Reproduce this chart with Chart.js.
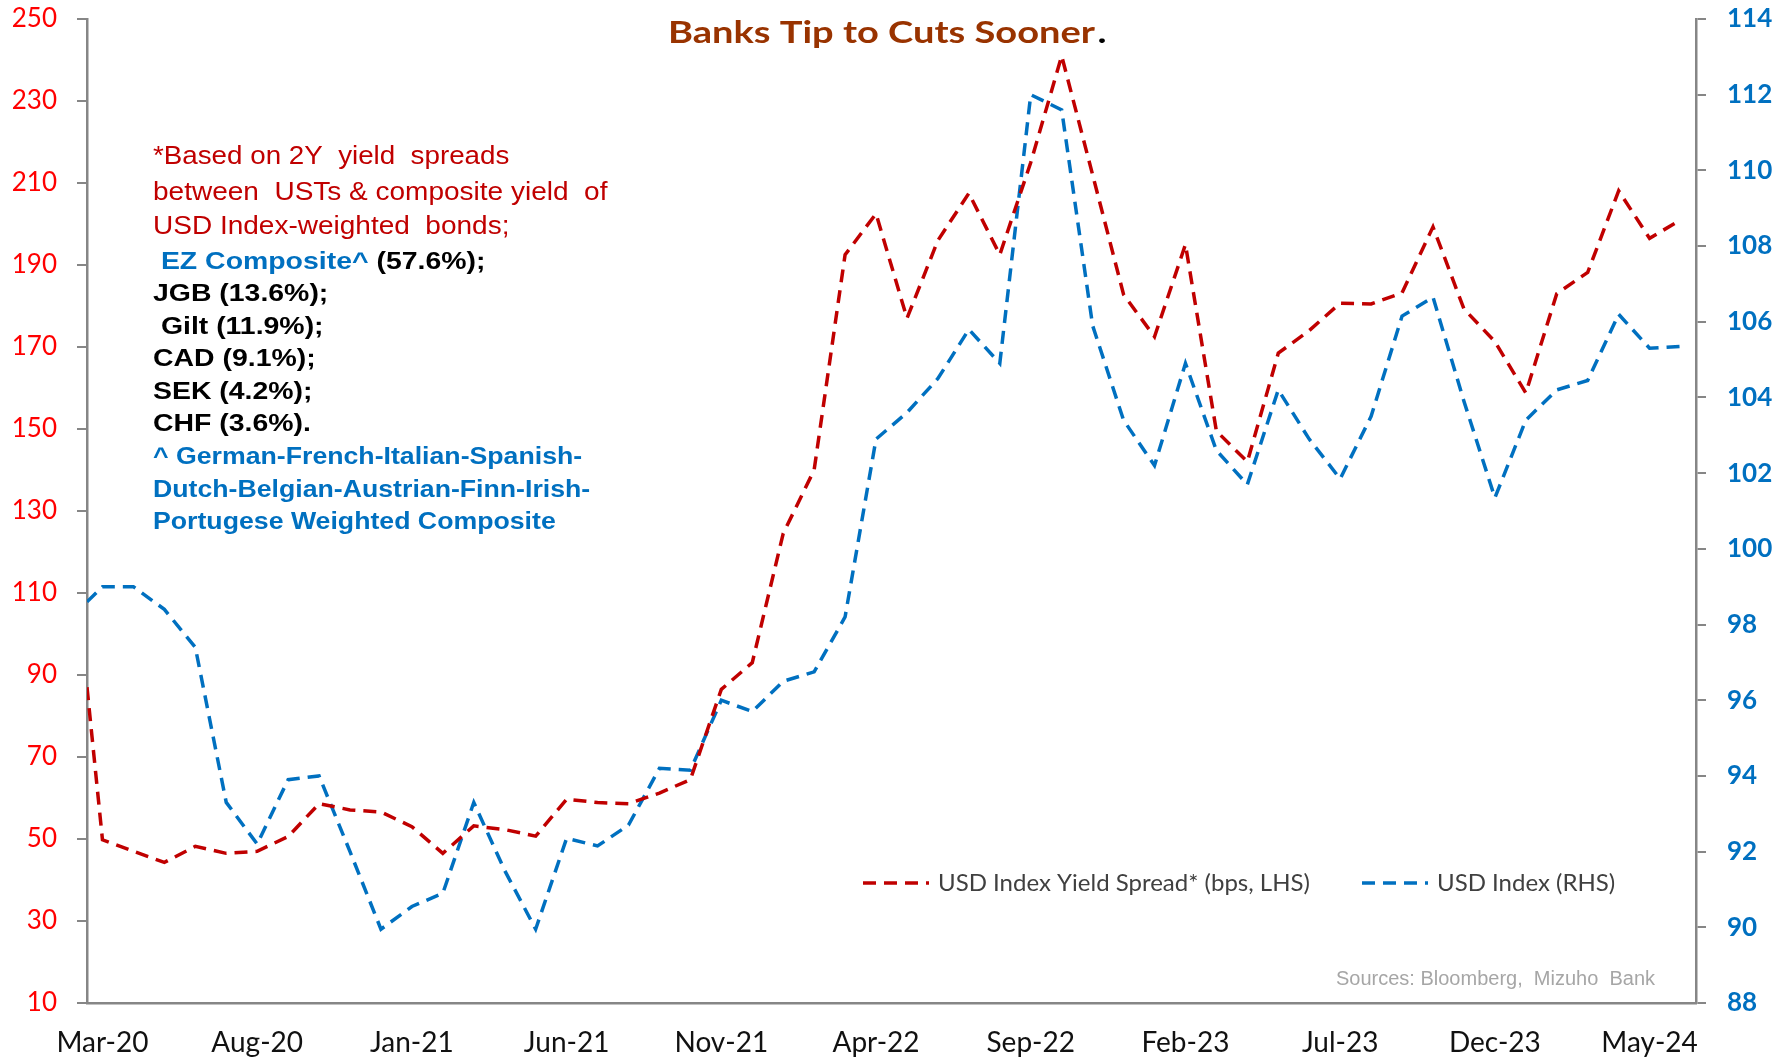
<!DOCTYPE html>
<html>
<head>
<meta charset="utf-8">
<script src="https://cdn.jsdelivr.net/npm/chart.js@4/dist/chart.umd.min.js"></script>
<style>
  html, body { margin: 0; padding: 0; background: #ffffff; }
  #wrap { width: 1787px; height: 1057px; position: relative; }
</style>
</head>
<body>
<div id="wrap"><canvas id="chart"></canvas></div>
<script>
// Monthly observations, Mar-20 .. Jun-24
const months = [
  'Mar-20','Apr-20','May-20','Jun-20','Jul-20','Aug-20','Sep-20','Oct-20','Nov-20','Dec-20',
  'Jan-21','Feb-21','Mar-21','Apr-21','May-21','Jun-21','Jul-21','Aug-21','Sep-21','Oct-21',
  'Nov-21','Dec-21','Jan-22','Feb-22','Mar-22','Apr-22','May-22','Jun-22','Jul-22','Aug-22',
  'Sep-22','Oct-22','Nov-22','Dec-22','Jan-23','Feb-23','Mar-23','Apr-23','May-23','Jun-23',
  'Jul-23','Aug-23','Sep-23','Oct-23','Nov-23','Dec-23','Jan-24','Feb-24','Mar-24','Apr-24',
  'May-24','Jun-24'
];

// USD Index yield spread, bps (left axis)
const spread = [
  49.8, 47.0, 44.3, 48.2, 46.5, 47.0, 50.6, 58.6, 57.1, 56.6,
  53.0, 46.5, 53.2, 52.3, 50.7, 59.7, 58.9, 58.6, 61.2, 64.5,
  86.5, 93.0, 124.5, 140.0, 192.5, 202.5, 177.0, 196.0, 207.5, 192.5,
  215.0, 241.0, 212.0, 182.8, 172.5, 195.0, 149.5, 142.0, 168.5, 174.0,
  180.7, 180.5, 183.2, 199.3, 179.3, 171.3, 158.8, 183.0, 188.2, 208.1,
  196.5, 201.0
];

// USD Index level (right axis)
const usdIndex = [
  99.0, 99.0, 98.4, 97.4, 93.3, 92.2, 93.9, 94.0, 92.0, 89.95,
  90.55, 90.9, 93.3, 91.5, 89.95, 92.35, 92.15, 92.7, 94.2, 94.15,
  96.0, 95.7, 96.5, 96.75, 98.2, 102.9, 103.6, 104.5, 105.8, 104.9,
  112.0, 111.6, 105.9, 103.4, 102.2, 104.9, 102.6, 101.7, 104.2, 102.9,
  101.85, 103.5, 106.15, 106.65, 103.9, 101.35, 103.4, 104.2, 104.45, 106.2,
  105.3, 105.35
];

// Opening observation in mid-Feb-20, half a month ahead of the first monthly print
const openMonth = -0.5;
const openSpread = 87;
const openUsdIndex = 98.6;

// Labelled months on the date axis
const tickMonths = ['Mar-20','Aug-20','Jan-21','Jun-21','Nov-21','Apr-22','Sep-22','Feb-23','Jul-23','Dec-23','May-24'];

const seriesNames = ['USD Index Yield Spread* (bps, LHS)', 'USD Index (RHS)'];

const titleText = 'Banks Tip to Cuts Sooner';
const sourceText = 'Sources: Bloomberg,  Mizuho  Bank';

const RED = '#C00000', BLUE = '#0070C0', AXIS = '#868686';
const NOTE_RED = "25px 'Liberation Sans', Arial, sans-serif";
const NOTE_BOLD = "bold 24.5px 'Liberation Sans', Arial, sans-serif";
const NOTE_BLUE = "bold 23px 'Liberation Sans', Arial, sans-serif";

// Footnote block: lines of coloured runs, with a horizontal stretch per line
const noteLines = [
  { sx: 1.11, runs: [{ text: '*Based on 2Y  yield  spreads', font: NOTE_RED, color: RED }] },
  { sx: 1.12, runs: [{ text: 'between  USTs & composite yield  of', font: NOTE_RED, color: RED }] },
  { sx: 1.12, runs: [{ text: 'USD Index-weighted  bonds;', font: NOTE_RED, color: RED }] },
  { sx: 1.16, runs: [{ text: ' EZ Composite^', font: NOTE_BOLD, color: BLUE }, { text: ' (57.6%);', font: NOTE_BOLD, color: '#000' }] },
  { sx: 1.16, runs: [{ text: 'JGB (13.6%);', font: NOTE_BOLD, color: '#000' }] },
  { sx: 1.16, runs: [{ text: ' Gilt (11.9%);', font: NOTE_BOLD, color: '#000' }] },
  { sx: 1.16, runs: [{ text: 'CAD (9.1%);', font: NOTE_BOLD, color: '#000' }] },
  { sx: 1.16, runs: [{ text: 'SEK (4.2%);', font: NOTE_BOLD, color: '#000' }] },
  { sx: 1.16, runs: [{ text: 'CHF (3.6%).', font: NOTE_BOLD, color: '#000' }] },
  { sx: 1.16, runs: [{ text: '^ German-French-Italian-Spanish-', font: NOTE_BLUE, color: BLUE }] },
  { sx: 1.16, runs: [{ text: 'Dutch-Belgian-Austrian-Finn-Irish-', font: NOTE_BLUE, color: BLUE }] },
  { sx: 1.16, runs: [{ text: 'Portugese Weighted Composite', font: NOTE_BLUE, color: BLUE }] }
];
const noteBaselines = [164, 200, 234, 269, 301, 334, 366, 399, 431, 464, 497, 529];

function toPoints(open, values) {
  return [{ x: openMonth, y: open }].concat(values.map((v, i) => ({ x: i, y: v })));
}

function drawRuns(ctx, x, y, runs, sx) {
  ctx.save();
  ctx.translate(x, y);
  ctx.scale(sx, 1);
  let cx = 0;
  for (const r of runs) {
    ctx.font = r.font;
    ctx.fillStyle = r.color;
    ctx.fillText(r.text, cx, 0);
    cx += ctx.measureText(r.text).width;
  }
  ctx.restore();
}

// Value axes keep their top/bottom labels inside the layout padding
function fixVerticalAxis(width) {
  return function (scale) {
    scale.width = width;
    scale.paddingTop = 0;
    scale.paddingBottom = 0;
  };
}

const decorations = {
  id: 'decorations',
  afterDraw(chart) {
    const ctx = chart.ctx;
    ctx.save();
    ctx.textBaseline = 'alphabetic';
    ctx.textAlign = 'left';

    // Title: brown heading set to its banner width, black full stop
    ctx.font = "bold 30px Lato, 'Open Sans', sans-serif";
    const tw = ctx.measureText(titleText).width;
    const tsx = 427 / tw;
    ctx.save();
    ctx.translate(668, 43);
    ctx.scale(tsx, 1);
    ctx.fillStyle = '#993300';
    ctx.fillText(titleText, 0, 0);
    ctx.fillStyle = '#000';
    ctx.fillText('.', tw + 2, 0);
    ctx.restore();

    // Footnote block
    noteLines.forEach((line, i) => drawRuns(ctx, 153, noteBaselines[i], line.runs, line.sx));

    // Legend
    const legendX = [863, 1362];
    const legendY = 883;
    chart.data.datasets.forEach((ds, i) => {
      const x0 = legendX[i];
      ctx.save();
      ctx.strokeStyle = ds.borderColor;
      ctx.lineWidth = ds.borderWidth;
      ctx.setLineDash(ds.borderDash);
      ctx.beginPath();
      ctx.moveTo(x0, legendY);
      ctx.lineTo(x0 + 66, legendY);
      ctx.stroke();
      ctx.restore();
      ctx.font = "24px Lato, 'Open Sans', sans-serif";
      ctx.fillStyle = '#404040';
      ctx.fillText(ds.label, x0 + 75, legendY + 8);
    });

    // Source line
    ctx.font = "20px 'Liberation Sans', Arial, sans-serif";
    ctx.fillStyle = '#A6A6A6';
    ctx.textAlign = 'right';
    ctx.fillText(sourceText, 1655, 985);
    ctx.restore();
  }
};

new Chart(document.getElementById('chart'), {
  type: 'line',
  data: {
    datasets: [
      {
        label: seriesNames[0],
        data: toPoints(openSpread, spread),
        yAxisID: 'yL',
        borderColor: RED,
        borderWidth: 3.5,
        borderDash: [13, 8],
        pointRadius: 0,
        tension: 0,
        fill: false
      },
      {
        label: seriesNames[1],
        data: toPoints(openUsdIndex, usdIndex),
        yAxisID: 'yR',
        borderColor: BLUE,
        borderWidth: 3.5,
        borderDash: [13, 8],
        pointRadius: 0,
        tension: 0,
        fill: false
      }
    ]
  },
  options: {
    responsive: true,
    maintainAspectRatio: false,
    animation: false,
    layout: { autoPadding: false, padding: { top: 19, left: 0, right: 0, bottom: 0 } },
    plugins: { legend: { display: false }, title: { display: false }, tooltip: { enabled: false } },
    scales: {
      x: {
        type: 'linear',
        min: openMonth,
        max: months.length - 0.5,
        afterBuildTicks(scale) {
          scale.ticks = tickMonths.map(m => ({ value: months.indexOf(m) }));
        },
        afterFit(scale) { scale.height = 54; },
        ticks: {
          callback: (v) => months[v],
          color: '#111',
          font: { family: "Lato, 'Open Sans', sans-serif", size: 28 },
          padding: 23,
          maxRotation: 0,
          autoSkip: false
        },
        grid: { drawOnChartArea: false, drawTicks: false, color: AXIS },
        border: { display: true, color: AXIS, width: 2.5 }
      },
      yL: {
        position: 'left',
        min: 10,
        max: 250,
        afterFit: fixVerticalAxis(87),
        ticks: {
          stepSize: 20,
          color: '#FF0000',
          font: { family: "Lato, 'Open Sans', sans-serif", size: 26 },
          padding: 20
        },
        grid: { drawOnChartArea: false, drawTicks: true, tickLength: 10, color: AXIS, lineWidth: 2 },
        border: { display: true, color: AXIS, width: 2.5 }
      },
      yR: {
        position: 'right',
        min: 88,
        max: 114,
        afterFit: fixVerticalAxis(91),
        ticks: {
          stepSize: 2,
          color: BLUE,
          font: { family: "Lato, 'Open Sans', sans-serif", size: 26, weight: 'bold' },
          padding: 21
        },
        grid: { drawOnChartArea: false, drawTicks: true, tickLength: 10, color: AXIS, lineWidth: 2 },
        border: { display: true, color: AXIS, width: 2.5 }
      }
    }
  },
  plugins: [decorations]
});
</script>
</body>
</html>
